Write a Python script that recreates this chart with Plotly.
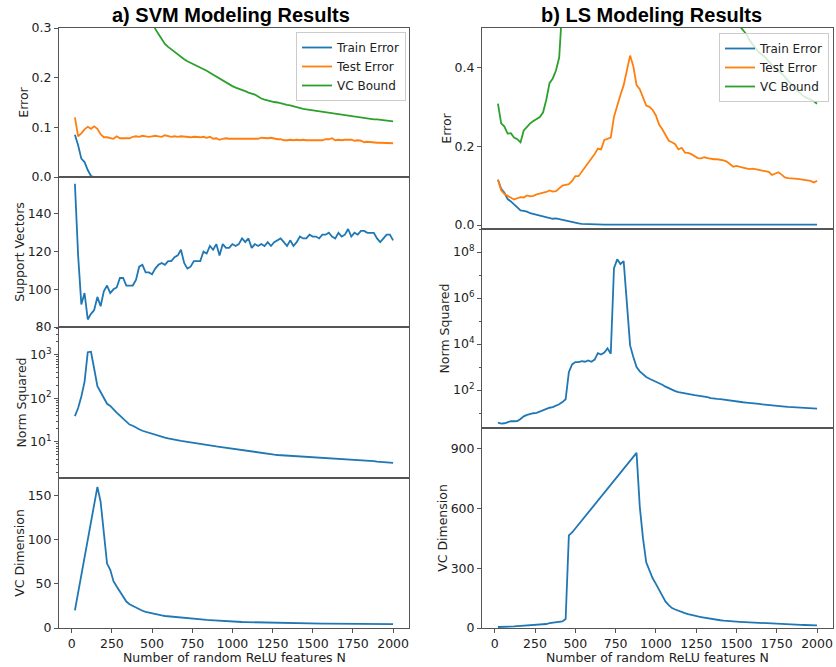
import plotly.graph_objects as go

# Number of random ReLU features
N = list(range(20, 2001, 20))

# ---------------- a) SVM ----------------
svm_train_err = [0.085, 0.064, 0.037, 0.030, 0.014, 0.002] + [0.0] * 94

svm_test_err = [
    0.120, 0.082, 0.088, 0.096, 0.101, 0.097, 0.102, 0.097, 0.086, 0.080,
    0.080, 0.078, 0.077, 0.082, 0.078, 0.078, 0.078, 0.078, 0.081, 0.082,
    0.081, 0.083, 0.082, 0.081, 0.082, 0.083, 0.082, 0.081, 0.084, 0.082,
    0.081, 0.082, 0.081, 0.082, 0.081, 0.080, 0.080, 0.081, 0.080, 0.080,
    0.081, 0.079, 0.081, 0.077, 0.078, 0.075, 0.077, 0.078, 0.077, 0.077,
    0.078, 0.078, 0.077, 0.077, 0.077, 0.078, 0.077, 0.077, 0.079, 0.078,
    0.078, 0.079, 0.077, 0.076, 0.076, 0.074, 0.074, 0.075, 0.074, 0.075,
    0.074, 0.075, 0.074, 0.074, 0.075, 0.074, 0.074, 0.074, 0.076, 0.076,
    0.078, 0.074, 0.075, 0.074, 0.075, 0.075, 0.075, 0.073, 0.074, 0.073,
    0.070, 0.071, 0.070, 0.070, 0.069, 0.069, 0.069, 0.068, 0.068, 0.068,
]

svm_vc_bound = [None] * 24 + [
    0.330, 0.298, 0.288, 0.277, 0.268, 0.262, 0.257, 0.252, 0.246, 0.241,
    0.237, 0.233, 0.230, 0.227, 0.224, 0.221, 0.217, 0.214, 0.210, 0.206,
    0.203, 0.199, 0.195, 0.191, 0.187, 0.183, 0.180, 0.178, 0.176, 0.173,
    0.170, 0.168, 0.166, 0.162, 0.158, 0.156, 0.154, 0.152, 0.151, 0.150,
    0.148, 0.147, 0.145, 0.144, 0.142, 0.140, 0.139, 0.137, 0.136, 0.135,
    0.134, 0.134, 0.133, 0.132, 0.131, 0.130, 0.129, 0.128, 0.127, 0.126,
    0.125, 0.124, 0.123, 0.122, 0.121, 0.120, 0.119, 0.118, 0.117, 0.116,
    0.116, 0.115, 0.114, 0.113, 0.113, 0.112,
]

svm_support_vectors = [
    156, 118, 92, 98, 84, 87, 89, 96, 91, 99,
    102, 98, 100, 101, 106, 106, 102, 102, 102, 105,
    112, 113, 109, 109, 108, 111, 113, 114, 113, 115,
    115, 117, 118, 121, 114, 111, 112, 115, 115, 115,
    120, 119, 123, 121, 124, 118, 124, 122, 122, 124,
    123, 124, 127, 125, 127, 122, 124, 123, 124, 123,
    125, 123, 125, 126, 127, 125, 123, 126, 123, 125,
    128, 127, 127, 129, 128, 128, 127, 129, 129, 130,
    128, 127, 130, 128, 129, 132, 128, 130, 129, 131,
    131, 130, 130, 130, 127, 125, 127, 129, 129, 126,
]

svm_norm_sq = [
    39, 60, 110, 240, 1150, 1180, 480, 190, 140, 105,
    75, 67, 55, 47, 40, 34, 28, 25, 23.5, 21,
    19.5, 18, 17, 16, 15.2, 14.5, 13.8, 13.2, 12.5, 12,
    11.5, 11.1, 10.8, 10.5, 10.3, 10, 9.7, 9.4, 9.1, 8.8,
    8.6, 8.4, 8.2, 8.0, 7.85, 7.7, 7.5, 7.3, 7.15, 7.0,
    6.85, 6.7, 6.55, 6.4, 6.25, 6.1, 5.95, 5.75, 5.55, 5.4,
    5.3, 5.2, 5.1, 5.0, 4.95, 4.9, 4.8, 4.75, 4.7, 4.65,
    4.6, 4.5, 4.45, 4.42, 4.4, 4.38, 4.35, 4.32, 4.3, 4.28,
    4.25, 4.2, 4.15, 4.1, 4.05, 4.0, 3.95, 3.9, 3.85, 3.8,
    3.75, 3.7, 3.65, 3.6, 3.5, 3.45, 3.4, 3.35, 3.3, 3.28,
]

svm_vc_dim = [
    20, 40, 60, 80, 100, 120, 140, 160, 143, 108,
    73, 66, 53, 47, 41, 36, 30, 27, 25, 23,
    21, 19.5, 18.2, 17.3, 16.3, 15.5, 14.8, 14.2, 13.6, 13.2,
    12.8, 12.4, 12.0, 11.7, 11.4, 11.1, 10.8, 10.5, 10.1, 9.8,
    9.5, 9.2, 9.0, 8.7, 8.5, 8.2, 8.0, 7.7, 7.5, 7.2,
    7.0, 6.9, 6.8, 6.7, 6.6, 6.5, 6.4, 6.3, 6.2, 6.0,
    5.95, 5.9, 5.85, 5.8, 5.75, 5.7, 5.6, 5.5, 5.4, 5.3,
    5.25, 5.2, 5.15, 5.1, 5.05, 5.0, 4.98, 4.95, 4.92, 4.9,
    4.88, 4.86, 4.84, 4.82, 4.8, 4.78, 4.76, 4.74, 4.72, 4.7,
    4.68, 4.66, 4.64, 4.62, 4.6, 4.58, 4.56, 4.54, 4.52, 4.5,
]

# ---------------- b) LS ----------------
ls_train_err = [
    0.115, 0.092, 0.082, 0.066, 0.060, 0.053, 0.046, 0.037, 0.036, 0.034,
    0.030, 0.028, 0.027, 0.025, 0.023, 0.021, 0.018, 0.016, 0.017, 0.015,
    0.014, 0.012, 0.009, 0.007, 0.005, 0.004, 0.003, 0.0025, 0.002, 0.0015,
] + [0.001] * 70

ls_test_err = [
    0.115, 0.088, 0.079, 0.074, 0.070, 0.065, 0.068, 0.071, 0.070, 0.075,
    0.073, 0.074, 0.078, 0.080, 0.082, 0.084, 0.088, 0.085, 0.086, 0.094,
    0.100, 0.102, 0.104, 0.112, 0.124, 0.124, 0.135, 0.148, 0.160, 0.170,
    0.180, 0.194, 0.192, 0.216, 0.220, 0.222, 0.275, 0.305, 0.330, 0.355,
    0.396, 0.430, 0.403, 0.355, 0.345, 0.322, 0.303, 0.300, 0.292, 0.278,
    0.255, 0.243, 0.228, 0.214, 0.210, 0.205, 0.192, 0.196, 0.184, 0.183,
    0.180, 0.174, 0.170, 0.169, 0.172, 0.170, 0.168, 0.167, 0.167, 0.166,
    0.164, 0.161, 0.155, 0.148, 0.150, 0.147, 0.146, 0.144, 0.142, 0.143,
    0.142, 0.140, 0.138, 0.137, 0.135, 0.127, 0.130, 0.134, 0.128, 0.121,
    0.119, 0.119, 0.118, 0.117, 0.116, 0.115, 0.113, 0.112, 0.108, 0.112,
]

ls_vc_bound = [
    0.308, 0.258, 0.250, 0.232, 0.233, 0.222, 0.218, 0.210, 0.240, 0.250,
    0.258, 0.264, 0.268, 0.274, 0.286, 0.318, 0.360, 0.372, 0.392, 0.425,
    0.560,
] + [None] * 53 + [
    0.530, 0.505, 0.495, 0.485, 0.470, 0.458, 0.447, 0.438, 0.432, 0.425,
    0.415, 0.407, 0.398, 0.390, 0.385, 0.375, 0.365, 0.356, 0.348, 0.340,
    0.332, 0.326, 0.322, 0.319, 0.314, 0.308,
]

ls_norm_sq = [
    3.8, 3.5, 3.6, 4.1, 4.4, 4.4, 4.5, 5.5, 7.2, 8.3,
    9.3, 9.8, 10.2, 11.5, 13, 15.5, 17, 18, 20, 24,
    30, 40, 600, 1300, 1650, 1650, 1800, 1700, 1950, 1700,
    2100, 4000, 3500, 4300, 6500, 3800, 2.0e7, 4.8e7, 3.0e7, 4.0e7,
    6.0e5, 8700, 2700, 1000, 650, 480, 370, 310, 270, 240,
    205, 170, 140, 120, 100, 90, 82, 76, 72, 68,
    64, 60, 57, 55, 52, 49, 45, 42, 41, 40,
    38, 36, 34, 32, 31, 30, 29.5, 28.5, 28, 27,
    26, 25, 24, 23, 22, 21, 20.5, 20, 19.5, 19,
    18.5, 18, 17.5, 17, 16.8, 16.5, 16.2, 16, 15.7, 15.5,
]

ls_vc_dim = [
    5, 5, 6, 6, 7, 8, 9, 10, 11, 12,
    13, 14, 15, 16, 17, 20, 24, 26, 27, 29,
    33, 45, 465, 480, 500, 520, 540, 560, 580, 600,
    620, 640, 660, 680, 700, 720, 740, 760, 780, 800,
    820, 840, 860, 880, 610, 450, 330, 285, 250, 222,
    190, 160, 132, 115, 100, 93, 86, 80, 75, 70,
    65, 61, 58, 55, 52, 48, 45, 43, 41, 39,
    37, 35, 34, 33, 32, 31, 30, 29, 28, 27,
    26, 25, 24, 23, 22, 21, 20, 19, 18.5, 18,
    17.5, 17, 16.5, 16, 15.5, 15, 14.5, 14, 13.5, 13,
]

series_names = ["Train Error", "Test Error", "VC Bound"]
x_ticks = [0, 250, 500, 750, 1000, 1250, 1500, 1750, 2000]
x_title = "Number of random ReLU features N"

BLUE, ORANGE, GREEN = "#1f77b4", "#ff7f0e", "#2ca02c"
W, H = 836, 667
FONT = "DejaVu Sans"
FS = 12.5
AX_COLOR = "#555555"
TXT = "#222222"
X_RANGE = [-79, 2099]


def fy(p):
    return 1 - p / H


left_dom = [59 / W, 409 / W]
right_dom = [482 / W, 833 / W]
left_edges = [28, 177, 327, 478, 628]
right_edges = [28, 229, 428, 628]


def sup_labels(exps):
    return [f"10<sup>{e}</sup>" for e in exps]


def minor_log(lo, hi):
    vals = []
    for e in range(lo, hi):
        for m in range(2, 10):
            vals.append(m * 10 ** e)
    return vals


# panel specs: column domain, top/bottom px, y title, y axis options, bottom?
panels = [
    (left_dom, left_edges[0], left_edges[1], "Error",
     dict(range=[0, 0.3], tickvals=[0, 0.1, 0.2, 0.3], tickformat=".1f"), False),
    (left_dom, left_edges[1], left_edges[2], "Support Vectors",
     dict(range=[80, 159.6], tickvals=[80, 100, 120, 140]), False),
    (left_dom, left_edges[2], left_edges[3], "Norm Squared",
     dict(type="log", range=[0.17, 3.64], tickvals=[10, 100, 1000],
          ticktext=sup_labels([1, 2, 3]),
          minor=dict(tickvals=minor_log(0, 4), ticks="outside", ticklen=2,
                     tickcolor=AX_COLOR)), False),
    (left_dom, left_edges[3], left_edges[4], "VC Dimension",
     dict(range=[0, 170], tickvals=[0, 50, 100, 150]), True),
    (right_dom, right_edges[0], right_edges[1], "Error",
     dict(range=[-0.01, 0.5], tickvals=[0, 0.2, 0.4], tickformat=".1f"), False),
    (right_dom, right_edges[1], right_edges[2], "Norm Squared",
     dict(type="log", range=[0.35, 9.0], tickvals=[1e2, 1e4, 1e6, 1e8],
          ticktext=sup_labels([2, 4, 6, 8]),
          minor=dict(tickvals=[10 ** e for e in range(0, 10)], ticks="outside",
                     ticklen=2, tickcolor=AX_COLOR)), False),
    (right_dom, right_edges[2], right_edges[3], "VC Dimension",
     dict(range=[0, 1005], tickvals=[0, 300, 600, 900]), True),
]

fig = go.Figure()
layout = {}
for i, (dom, top, bot, ytitle, yopts, bottom) in enumerate(panels, start=1):
    xa = "xaxis" if i == 1 else f"xaxis{i}"
    ya = "yaxis" if i == 1 else f"yaxis{i}"
    layout[xa] = dict(
        domain=dom, anchor=f"y{i}", range=X_RANGE, automargin=False,
        showline=True, mirror=True, linecolor=AX_COLOR, linewidth=1,
        showgrid=False, zeroline=False,
        ticks="outside" if bottom else "", ticklen=4, tickcolor=AX_COLOR,
        tickvals=x_ticks, showticklabels=bottom,
        tickfont=dict(family=FONT, size=FS, color=TXT),
    )
    yd = dict(
        domain=[fy(bot), fy(top)], anchor=f"x{i}", automargin=False,
        showline=True, mirror=True, linecolor=AX_COLOR, linewidth=1,
        showgrid=False, zeroline=False,
        ticks="outside", ticklen=4, tickcolor=AX_COLOR,
        tickfont=dict(family=FONT, size=FS, color=TXT),
        title=dict(text=ytitle, font=dict(family=FONT, size=FS, color=TXT),
                   standoff=0),
    )
    yd.update(yopts)
    layout[ya] = yd


def add(x, y, color, axis_i, name=None, legend=None):
    suffix = "" if axis_i == 1 else str(axis_i)
    fig.add_trace(go.Scatter(
        x=x, y=y, mode="lines", line=dict(color=color, width=1.8),
        name=name, showlegend=name is not None,
        legend=legend, xaxis=f"x{suffix}", yaxis=f"y{suffix}",
    ))


# a) SVM column
add(N, svm_train_err, BLUE, 1, series_names[0], "legend")
add(N, svm_test_err, ORANGE, 1, series_names[1], "legend")
add(N, svm_vc_bound, GREEN, 1, series_names[2], "legend")
add(N, svm_support_vectors, BLUE, 2)
add(N, svm_norm_sq, BLUE, 3)
add(N, svm_vc_dim, BLUE, 4)

# b) LS column
add(N, ls_train_err, BLUE, 5, series_names[0], "legend2")
add(N, ls_test_err, ORANGE, 5, series_names[1], "legend2")
add(N, ls_vc_bound, GREEN, 5, series_names[2], "legend2")
add(N, ls_norm_sq, BLUE, 6)
add(N, ls_vc_dim, BLUE, 7)

legend_style = dict(
    xanchor="right", yanchor="top", bgcolor="rgba(255,255,255,0.8)",
    bordercolor="#cccccc", borderwidth=1, itemwidth=30,
    font=dict(family=FONT, size=12, color=TXT), tracegroupgap=0,
)

title_font = dict(family="Liberation Sans", size=20, color="black")
xlab_font = dict(family=FONT, size=FS, color=TXT)


def paper_text(text, x, y, font):
    return dict(text=text, x=x, y=y, xref="paper", yref="paper",
                xanchor="center", yanchor="middle", showarrow=False,
                borderpad=0, font=font)


fig.update_layout(
    width=W, height=H, margin=dict(l=0, r=0, t=0, b=0, autoexpand=False),
    paper_bgcolor="white", plot_bgcolor="white",
    legend=dict(x=406 / W, y=fy(32), **legend_style),
    legend2=dict(x=829 / W, y=fy(33), **legend_style),
    annotations=[
        paper_text("<b>a) SVM Modeling Results</b>", 231 / W, fy(15), title_font),
        paper_text("<b>b) LS Modeling Results</b>", 651 / W, fy(15), title_font),
        paper_text(x_title, sum(left_dom) / 2, fy(657), xlab_font),
        paper_text(x_title, sum(right_dom) / 2, fy(657), xlab_font),
    ],
    **layout,
)

fig.write_html("out.html")
